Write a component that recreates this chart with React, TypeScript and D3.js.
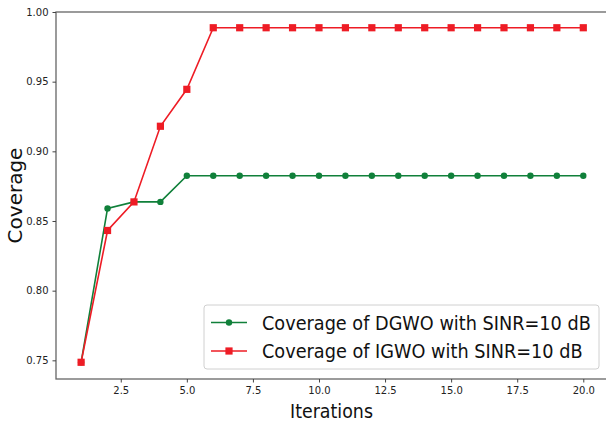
import React, { useEffect, useRef } from "react";
import * as d3 from "d3";

const iterations = [1, 2, 3, 4, 5, 6, 7, 8, 9, 10, 11, 12, 13, 14, 15, 16, 17, 18, 19, 20];
const dgwo = [0.7486, 0.859, 0.8637, 0.8637, 0.8825, 0.8825, 0.8825, 0.8825, 0.8825, 0.8825,
  0.8825, 0.8825, 0.8825, 0.8825, 0.8825, 0.8825, 0.8825, 0.8825, 0.8825, 0.8825];
const igwo = [0.7486, 0.8432, 0.8637, 0.918, 0.9445, 0.9887, 0.9887, 0.9887, 0.9887, 0.9887,
  0.9887, 0.9887, 0.9887, 0.9887, 0.9887, 0.9887, 0.9887, 0.9887, 0.9887, 0.9887];
const xTicks = [2.5, 5.0, 7.5, 10.0, 12.5, 15.0, 17.5, 20.0];
const yTicks = [0.75, 0.8, 0.85, 0.9, 0.95, 1.0];
const seriesNames = ["Coverage of DGWO with SINR=10 dB", "Coverage of IGWO with SINR=10 dB"];

const GREEN = "#10803a";
const RED = "#ee1c25";
const FONT = "DejaVu Sans, sans-serif";

const App: React.FC = () => {
  const svgRef = useRef<SVGSVGElement>(null);

  useEffect(() => {
    if (!svgRef.current) return;
    const svg = d3.select(svgRef.current);
    svg.selectAll("*").remove();

    const left = 56, right = 608.4, top = 12, bottom = 379;

    const x = d3.scaleLinear().domain([0.05, 20.95]).range([left, right]);
    const y = d3.scaleLinear().domain([0.7366, 1.0]).range([bottom, top]);

    // squeeze a text horizontally so it spans the given width
    const narrowText = (
      g: d3.Selection<SVGGElement, unknown, null, undefined>,
      tx: number, ty: number, width: number, size: number, label: string
    ) => {
      const t = g.append("text")
        .attr("font-family", FONT).attr("font-size", size).attr("fill", "#111")
        .text(label);
      const natural = (t.node() as SVGTextElement).getComputedTextLength() || width;
      t.attr("transform", `translate(${tx},${ty}) scale(${width / natural},1)`);
    };

    // spines
    svg.append("rect")
      .attr("x", left).attr("y", top)
      .attr("width", right - left).attr("height", bottom - top)
      .attr("fill", "none").attr("stroke", "#666").attr("stroke-width", 1.3);

    // x axis
    const xAxis = svg.append("g")
      .attr("transform", `translate(0,${bottom})`)
      .call(d3.axisBottom(x).tickValues(xTicks).tickFormat(d3.format(".1f")).tickSize(3.5).tickPadding(4));
    xAxis.select(".domain").remove();
    xAxis.selectAll("line").attr("stroke", "#444");
    xAxis.selectAll("text").attr("font-family", FONT).attr("font-size", 10).attr("fill", "#222");

    // y axis
    const yAxis = svg.append("g")
      .attr("transform", `translate(${left},0)`)
      .call(d3.axisLeft(y).tickValues(yTicks).tickFormat(d3.format(".2f")).tickSize(3.5).tickPadding(4));
    yAxis.select(".domain").remove();
    yAxis.selectAll("line").attr("stroke", "#444");
    yAxis.selectAll("text").attr("font-family", FONT).attr("font-size", 10).attr("fill", "#222");

    // axis labels
    narrowText(svg.append("g"), 290, 418, 83, 20, "Iterations");

    svg.append("text")
      .attr("transform", `translate(22,${(top + bottom) / 2}) rotate(-90)`)
      .attr("text-anchor", "middle")
      .attr("font-family", FONT).attr("font-size", 20).attr("fill", "#111")
      .text("Coverage");

    const line = d3.line<number>()
      .x((_, i) => x(iterations[i]))
      .y(d => y(d));

    // DGWO
    svg.append("path")
      .datum(dgwo)
      .attr("fill", "none").attr("stroke", GREEN).attr("stroke-width", 1.6)
      .attr("d", line);
    svg.selectAll(".dot")
      .data(dgwo)
      .enter().append("circle")
      .attr("class", "dot")
      .attr("cx", (_, i) => x(iterations[i]))
      .attr("cy", d => y(d))
      .attr("r", 3.2)
      .attr("fill", GREEN);

    // IGWO
    svg.append("path")
      .datum(igwo)
      .attr("fill", "none").attr("stroke", RED).attr("stroke-width", 1.6)
      .attr("d", line);
    svg.selectAll(".sq")
      .data(igwo)
      .enter().append("rect")
      .attr("class", "sq")
      .attr("x", (_, i) => x(iterations[i]) - 3.6)
      .attr("y", d => y(d) - 3.6)
      .attr("width", 7.2).attr("height", 7.2)
      .attr("fill", RED);

    // legend
    const lg = svg.append("g");
    lg.append("rect")
      .attr("x", 204).attr("y", 305)
      .attr("width", 395).attr("height", 64)
      .attr("rx", 3)
      .attr("fill", "white").attr("fill-opacity", 0.85)
      .attr("stroke", "#d0d0d0").attr("stroke-width", 1);

    const rows = [
      { name: seriesNames[0], color: GREEN, marker: "circle", yy: 322.5, w: 329 },
      { name: seriesNames[1], color: RED, marker: "square", yy: 351, w: 321 },
    ];
    rows.forEach(r => {
      lg.append("line")
        .attr("x1", 211).attr("x2", 247)
        .attr("y1", r.yy).attr("y2", r.yy)
        .attr("stroke", r.color).attr("stroke-width", 1.6);
      if (r.marker === "circle") {
        lg.append("circle").attr("cx", 229).attr("cy", r.yy).attr("r", 3.2).attr("fill", r.color);
      } else {
        lg.append("rect").attr("x", 229 - 3.6).attr("y", r.yy - 3.6)
          .attr("width", 7.2).attr("height", 7.2).attr("fill", r.color);
      }
      narrowText(lg, 262, r.yy + 7, r.w, 19.5, r.name);
    });
  }, []);

  return (
    <svg
      ref={svgRef}
      width={606}
      height={423}
      style={{ position: "absolute", left: 0, top: 0, background: "white" }}
    />
  );
};

export default App;
